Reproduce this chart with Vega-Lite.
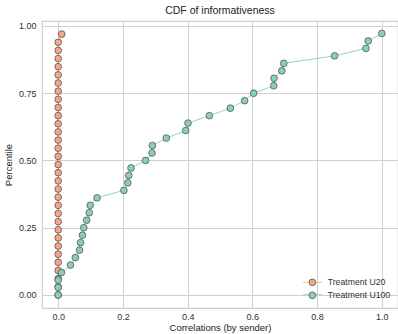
{
  "$schema": "https://vega.github.io/schema/vega-lite/v6.json",
  "autosize": {"type": "none"},
  "width": 356,
  "height": 287,
  "padding": {"left": 42, "top": 21, "right": 0, "bottom": 26},
  "background": "white",
  "title": {"text": "CDF of informativeness", "fontSize": 10.5, "font": "Liberation Sans", "fontWeight": "normal", "color": "#222222", "offset": 5},
  "config": {
    "font": "Liberation Sans",
    "view": {"stroke": "#d0d0d0", "strokeWidth": 1.2},
    "axis": {"grid": true, "gridColor": "#d0d0d0", "gridWidth": 1, "domain": false, "ticks": false, "labelFont": "Liberation Sans", "labelFontSize": 9, "labelColor": "#333333", "titleFont": "Liberation Sans", "titleFontSize": 9.5, "titleFontWeight": "normal", "titleColor": "#222222"}
  },
  "datasets": {
    "cdf": [
      {"treatment": "Treatment U20", "x": 0, "p": 0},
      {"treatment": "Treatment U20", "x": 0, "p": 0.0303},
      {"treatment": "Treatment U20", "x": 0, "p": 0.0606},
      {"treatment": "Treatment U20", "x": 0, "p": 0.0909},
      {"treatment": "Treatment U20", "x": 0, "p": 0.1212},
      {"treatment": "Treatment U20", "x": 0, "p": 0.1515},
      {"treatment": "Treatment U20", "x": 0, "p": 0.1818},
      {"treatment": "Treatment U20", "x": 0, "p": 0.2121},
      {"treatment": "Treatment U20", "x": 0, "p": 0.2424},
      {"treatment": "Treatment U20", "x": 0, "p": 0.2727},
      {"treatment": "Treatment U20", "x": 0, "p": 0.3030},
      {"treatment": "Treatment U20", "x": 0, "p": 0.3333},
      {"treatment": "Treatment U20", "x": 0, "p": 0.3636},
      {"treatment": "Treatment U20", "x": 0, "p": 0.3939},
      {"treatment": "Treatment U20", "x": 0, "p": 0.4242},
      {"treatment": "Treatment U20", "x": 0, "p": 0.4545},
      {"treatment": "Treatment U20", "x": 0, "p": 0.4848},
      {"treatment": "Treatment U20", "x": 0, "p": 0.5152},
      {"treatment": "Treatment U20", "x": 0, "p": 0.5455},
      {"treatment": "Treatment U20", "x": 0, "p": 0.5758},
      {"treatment": "Treatment U20", "x": 0, "p": 0.6061},
      {"treatment": "Treatment U20", "x": 0, "p": 0.6364},
      {"treatment": "Treatment U20", "x": 0, "p": 0.6667},
      {"treatment": "Treatment U20", "x": 0, "p": 0.6970},
      {"treatment": "Treatment U20", "x": 0, "p": 0.7273},
      {"treatment": "Treatment U20", "x": 0, "p": 0.7576},
      {"treatment": "Treatment U20", "x": 0, "p": 0.7879},
      {"treatment": "Treatment U20", "x": 0, "p": 0.8182},
      {"treatment": "Treatment U20", "x": 0, "p": 0.8485},
      {"treatment": "Treatment U20", "x": 0, "p": 0.8788},
      {"treatment": "Treatment U20", "x": 0, "p": 0.9091},
      {"treatment": "Treatment U20", "x": 0, "p": 0.9394},
      {"treatment": "Treatment U20", "x": 0.011, "p": 0.9697},
      {"treatment": "Treatment U100", "x": 0, "p": 0},
      {"treatment": "Treatment U100", "x": 0, "p": 0.0278},
      {"treatment": "Treatment U100", "x": 0, "p": 0.0556},
      {"treatment": "Treatment U100", "x": 0.010, "p": 0.0833},
      {"treatment": "Treatment U100", "x": 0.038, "p": 0.1111},
      {"treatment": "Treatment U100", "x": 0.053, "p": 0.1389},
      {"treatment": "Treatment U100", "x": 0.066, "p": 0.1667},
      {"treatment": "Treatment U100", "x": 0.069, "p": 0.1944},
      {"treatment": "Treatment U100", "x": 0.075, "p": 0.2222},
      {"treatment": "Treatment U100", "x": 0.079, "p": 0.25},
      {"treatment": "Treatment U100", "x": 0.088, "p": 0.2778},
      {"treatment": "Treatment U100", "x": 0.096, "p": 0.3056},
      {"treatment": "Treatment U100", "x": 0.099, "p": 0.3333},
      {"treatment": "Treatment U100", "x": 0.120, "p": 0.3611},
      {"treatment": "Treatment U100", "x": 0.203, "p": 0.3889},
      {"treatment": "Treatment U100", "x": 0.215, "p": 0.4167},
      {"treatment": "Treatment U100", "x": 0.218, "p": 0.4444},
      {"treatment": "Treatment U100", "x": 0.225, "p": 0.4722},
      {"treatment": "Treatment U100", "x": 0.270, "p": 0.5},
      {"treatment": "Treatment U100", "x": 0.290, "p": 0.5278},
      {"treatment": "Treatment U100", "x": 0.291, "p": 0.5556},
      {"treatment": "Treatment U100", "x": 0.334, "p": 0.5833},
      {"treatment": "Treatment U100", "x": 0.394, "p": 0.6111},
      {"treatment": "Treatment U100", "x": 0.401, "p": 0.6389},
      {"treatment": "Treatment U100", "x": 0.467, "p": 0.6667},
      {"treatment": "Treatment U100", "x": 0.532, "p": 0.6944},
      {"treatment": "Treatment U100", "x": 0.576, "p": 0.7222},
      {"treatment": "Treatment U100", "x": 0.604, "p": 0.75},
      {"treatment": "Treatment U100", "x": 0.666, "p": 0.7778},
      {"treatment": "Treatment U100", "x": 0.667, "p": 0.8056},
      {"treatment": "Treatment U100", "x": 0.691, "p": 0.8333},
      {"treatment": "Treatment U100", "x": 0.697, "p": 0.8611},
      {"treatment": "Treatment U100", "x": 0.854, "p": 0.8889},
      {"treatment": "Treatment U100", "x": 0.951, "p": 0.9167},
      {"treatment": "Treatment U100", "x": 0.958, "p": 0.9444},
      {"treatment": "Treatment U100", "x": 1.0, "p": 0.9722}
    ]
  },
  "data": {"name": "cdf"},
  "encoding": {
    "x": {"field": "x", "type": "quantitative", "title": "Correlations (by sender)",
      "scale": {"domain": [-0.05, 1.05], "nice": false, "zero": false},
      "axis": {"values": [0, 0.2, 0.4, 0.6, 0.8, 1.0], "format": ".1f", "labelPadding": 4, "titlePadding": 1}},
    "y": {"field": "p", "type": "quantitative", "title": "Percentile",
      "scale": {"domain": [-0.0485, 1.0185], "nice": false, "zero": false},
      "axis": {"values": [0, 0.25, 0.5, 0.75, 1.0], "format": ".2f", "labelPadding": 6, "titlePadding": 5}}
  },
  "layer": [
    {
      "mark": {"type": "line", "strokeWidth": 1, "opacity": 0.7},
      "encoding": {
        "stroke": {"field": "treatment", "type": "nominal", "sort": "descending",
          "scale": {"range": ["#fc8d62", "#66c2a5"]},
          "legend": {"orient": "none", "legendX": 266, "legendY": 257, "title": null, "symbolType": "M-2.8,0H2.8", "symbolSize": 45, "symbolStrokeWidth": 1, "symbolOpacity": 0.6, "labelOpacity": 0, "labelFontSize": 8.7, "rowPadding": 2, "padding": 0, "labelOffset": 11}},
        "order": {"field": "p", "type": "quantitative"}
      }
    },
    {
      "mark": {"type": "point", "filled": true, "shape": "circle", "size": 45, "stroke": "#555555", "strokeWidth": 0.8, "opacity": 1},
      "encoding": {
        "fill": {"field": "treatment", "type": "nominal",
          "scale": {"domain": ["Treatment U20", "Treatment U100"], "range": ["#f7a587", "#88d0b8"]},
          "legend": {"orient": "none", "legendX": 266, "legendY": 257, "title": null, "symbolType": "circle", "symbolSize": 45, "symbolStrokeColor": "#555555", "symbolStrokeWidth": 0.8, "symbolOpacity": 1, "labelFontSize": 8.7, "labelColor": "#333333", "rowPadding": 2, "padding": 0, "labelOffset": 11}},
        "order": {"field": "treatment", "type": "nominal", "sort": "descending"}
      }
    }
  ]
}
